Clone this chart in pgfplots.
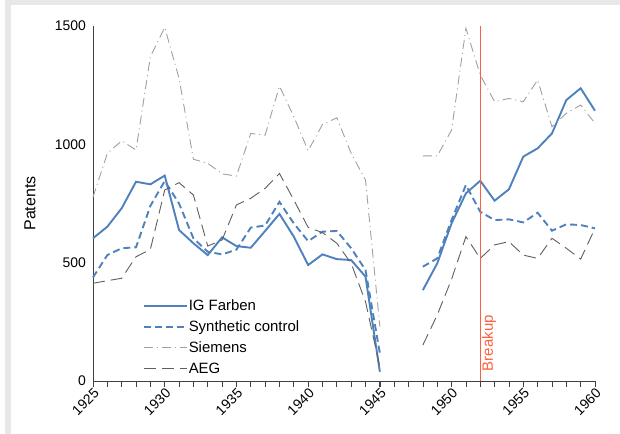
\documentclass[border=0pt]{standalone}
\usepackage{fontspec}
\setmainfont{Liberation Sans}
\usepackage{pgfplots}
\usepackage{pgfplotstable}
\pgfplotsset{compat=1.18}
\definecolor{igblue}{RGB}{79,129,189}
\definecolor{siem}{RGB}{160,160,160}
\definecolor{aeg}{RGB}{95,95,95}
\definecolor{brk}{RGB}{255,95,60}
\definecolor{framegray}{RGB}{232,232,232}
\definecolor{axisgray}{RGB}{64,64,64}

\pgfplotstableread{
year ig syn sie aeg
1925 603 438 777 413
1926 652 532 962 424
1927 730 561 1015 434
1928 842 565 976 525
1929 831 740 1370 556
1930 868 845 1494 807
1931 638 750 1279 838
1932 582 603 937 786
1933 532 546 920 570
1934 607 535 875 596
1935 570 555 866 744
1936 563 648 1046 772
1937 634 657 1039 814
1938 706 757 1246 877
1939 610 666 1117 765
1940 490 591 973 649
1941 535 631 1084 627
1942 515 634 1112 582
1943 511 561 962 497
1944 441 469 849 335
1945 39 117 230 60
1946 nan nan nan nan
1948 384 483 951 152
1949 497 518 951 279
1950 666 680 1060 430
1951 793 828 1490 610
1952 846 715 1293 518
1953 762 680 1180 575
1954 810 683 1194 589
1955 948 670 1180 532
1956 983 711 1272 518
1957 1046 635 1074 603
1958 1187 662 1131 561
1959 1237 659 1166 515
1960 1142 645 1089 645
}\datatable

\begin{document}
\begin{tikzpicture}
\path[use as bounding box] (0bp,0bp) rectangle (620bp,434bp);
\fill[framegray] (5bp,0bp) rectangle (620bp,434bp);
\fill[white] (11bp,0bp) rectangle (620bp,429bp);
\begin{axis}[
  at={(93bp,53bp)}, anchor=south west,
  scale only axis, width=502bp, height=355bp,
  xmin=1925, xmax=1960, ymin=0, ymax=1500,
  axis x line*=bottom, axis y line*=left,
  axis line style={axisgray, line width=0.8bp},
  xtick={1925,1930,...,1960},
  minor xtick={1926,1927,...,1959},
  ytick={0,500,1000,1500},
  tick align=outside,
  major tick length=5.5bp, minor tick length=5.5bp,
  tick style={axisgray, line width=0.7bp},
  ytick style={draw=none},
  /pgf/number format/1000 sep={},
  /pgf/number format/assume math mode=true,
  ticklabel style={font=\fontsize{14}{17}\selectfont},
  xticklabel style={rotate=45, anchor=north east, inner sep=0.5bp},
  yticklabel style={inner sep=1.5bp},
  ylabel={Patents},
  ylabel style={font=\fontsize{16}{19}\selectfont, at={(axis description cs:-0.1255,0.5)}, anchor=center},
  unbounded coords=jump,
  clip=false,
  legend style={draw=none, fill=none, at={(axis description cs:0.093,0.238)}, anchor=north west,
    font=\fontsize{15}{18}\selectfont, row sep=6.7bp, nodes={inner sep=1bp}},
  legend cell align=left,
  legend image code/.code={\draw[#1] (0bp,0bp) -- (35bp,0bp); \path (0bp,0bp) -- (43bp,0bp);},
]
\addplot[igblue, line width=1.9bp] table[x=year, y=ig] {\datatable};
\addlegendentry{IG Farben}
\addplot[igblue, line width=1.9bp, dash pattern=on 7bp off 4bp] table[x=year, y=syn] {\datatable};
\addlegendentry{Synthetic control}
\addplot[siem, line width=0.9bp, dash pattern=on 9bp off 4bp on 1bp off 4bp] table[x=year, y=sie] {\datatable};
\addlegendentry{Siemens}
\addplot[aeg, line width=0.9bp, dash pattern=on 12bp off 6bp] table[x=year, y=aeg] {\datatable};
\addlegendentry{AEG}
\addplot[brk, line width=1.4bp, forget plot] coordinates {(1952,0) (1952,1500)};
\node[rotate=90, anchor=north west, text=brk, font=\fontsize{15}{18}\selectfont, inner sep=1.5bp] at (axis cs:1952,35) {Breakup};
\end{axis}
\end{tikzpicture}
\end{document}
